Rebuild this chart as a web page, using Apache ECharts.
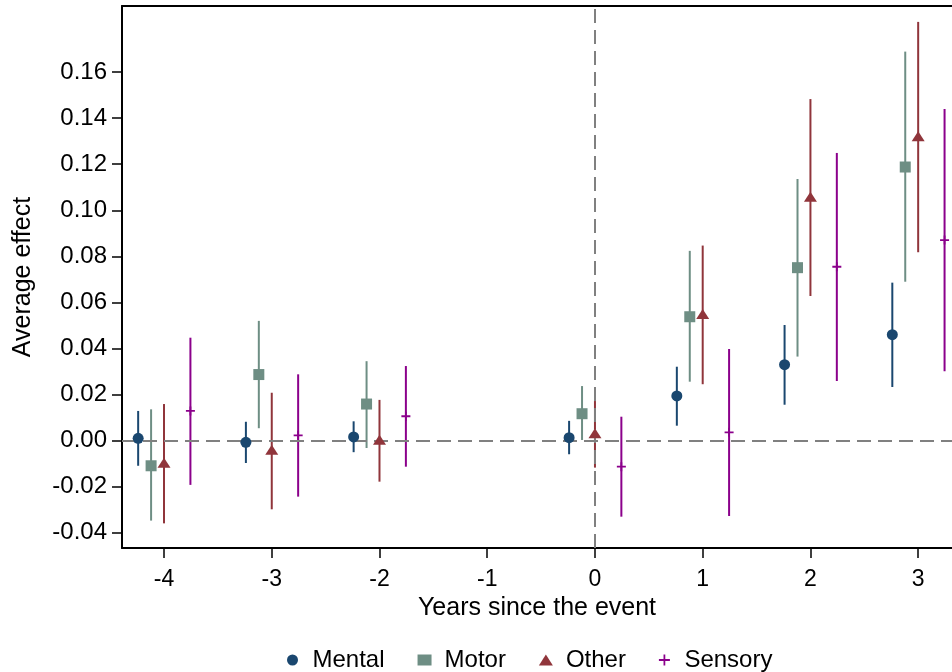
<!DOCTYPE html>
<html>
<head>
<meta charset="utf-8">
<script src="https://cdn.jsdelivr.net/npm/echarts@6/dist/echarts.min.js"></script>
<style>
  html, body { margin: 0; padding: 0; background: #fff; }
  #chart { width: 952px; height: 672px; }
</style>
</head>
<body>
<div id="chart"></div>
<script>
// years since the event (no estimate at -1, the reference year)
var years = [-4, -3, -2, 0, 1, 2, 3];
var xTicks = [-4, -3, -2, -1, 0, 1, 2, 3];
var yTicks = [-0.04, -0.02, 0, 0.02, 0.04, 0.06, 0.08, 0.10, 0.12, 0.14, 0.16];

var mentalEst = [0.0010, -0.0007, 0.0016, 0.0013, 0.0194, 0.0330, 0.0460];
var mentalLo  = [-0.0109, -0.0097, -0.0050, -0.0059, 0.0065, 0.0156, 0.0233];
var mentalHi  = [0.0129, 0.0082, 0.0084, 0.0086, 0.0321, 0.0502, 0.0686];

var motorEst = [-0.0109, 0.0287, 0.0159, 0.0117, 0.0538, 0.0751, 0.1188];
var motorLo  = [-0.0347, 0.0054, -0.0032, 0.0003, 0.0256, 0.0365, 0.0690];
var motorHi  = [0.0136, 0.0520, 0.0345, 0.0237, 0.0824, 0.1136, 0.1689];

var otherEst = [-0.0096, -0.0040, 0.0004, 0.0032, 0.0550, 0.1059, 0.1321];
var otherLo  = [-0.0359, -0.0298, -0.0178, -0.0117, 0.0245, 0.0628, 0.0818];
var otherHi  = [0.0159, 0.0208, 0.0177, 0.0172, 0.0847, 0.1483, 0.1818];

var sensoryEst = [0.0129, 0.0023, 0.0106, -0.0113, 0.0036, 0.0755, 0.0871];
var sensoryLo  = [-0.0192, -0.0243, -0.0113, -0.0330, -0.0327, 0.0259, 0.0301];
var sensoryHi  = [0.0447, 0.0288, 0.0324, 0.0104, 0.0398, 0.1249, 0.1440];

var font = 'Liberation Sans, Arial, sans-serif';
var plusPath = 'path://M0,4H10V6H0Z M4,0H6V10H4Z';

var groups = [
    { name: 'Mental',  color: '#1a476f', shift: -0.24,  est: mentalEst,  lo: mentalLo,  hi: mentalHi,  symbol: 'circle',   size: 11 },
    { name: 'Motor',   color: '#6e8e84', shift: -0.12,  est: motorEst,   lo: motorLo,   hi: motorHi,   symbol: 'rect',     size: 11 },
    { name: 'Other',   color: '#90353b', shift: 0,      est: otherEst,   lo: otherLo,   hi: otherHi,   symbol: 'triangle', size: [13, 10] },
    { name: 'Sensory', color: '#8b008b', shift: 0.245,  est: sensoryEst, lo: sensoryLo, hi: sensoryHi, symbol: plusPath,   size: 9 }
];

var series = [];
groups.forEach(function (g) {
    // confidence intervals as plain vertical lines
    series.push({
        name: g.name,
        type: 'custom',
        z: 2,
        itemStyle: { color: g.color },
        data: years.map(function (yr, i) { return [yr + g.shift, g.lo[i], g.hi[i]]; }),
        renderItem: function (params, api) {
            var p1 = api.coord([api.value(0), api.value(1)]);
            var p2 = api.coord([api.value(0), api.value(2)]);
            return {
                type: 'line',
                shape: { x1: p1[0], y1: p1[1], x2: p2[0], y2: p2[1] },
                style: { stroke: g.color, lineWidth: 2 }
            };
        }
    });
    series.push({
        name: g.name,
        type: 'scatter',
        z: 5,
        symbol: g.symbol,
        symbolSize: g.size,
        itemStyle: { color: g.color, opacity: 1 },
        data: years.map(function (yr, i) { return [yr + g.shift, g.est[i]]; })
    });
});

// reference lines at zero
series.push({
    type: 'line',
    data: [],
    z: 1,
    markLine: {
        silent: true,
        symbol: 'none',
        label: { show: false },
        lineStyle: { color: '#808080', type: [14, 7], width: 2 },
        data: [{ yAxis: 0 }, { xAxis: 0 }]
    }
});

var chart = echarts.init(document.getElementById('chart'), null, { renderer: 'canvas' });
chart.setOption({
    animation: false,
    backgroundColor: '#fff',
    textStyle: { fontFamily: font, color: '#000' },
    grid: { left: 122, right: 0, top: 6, bottom: 124 },
    legend: {
        left: 282,
        top: 643,
        itemWidth: 14,
        itemHeight: 11,
        itemGap: 33,
        textStyle: { fontFamily: font, fontSize: 24, color: '#000', padding: [0, 0, 0, 8] },
        data: [
            { name: 'Mental', icon: 'circle', itemStyle: { color: '#1a476f' } },
            { name: 'Motor', icon: 'rect', itemStyle: { color: '#6e8e84' } },
            { name: 'Other', icon: 'triangle', itemStyle: { color: '#90353b' } },
            { name: 'Sensory', icon: 'path://M2.5,4.6H7.5V5.4H2.5Z M4.6,2.5H5.4V7.5H4.6Z', itemStyle: { color: '#8b008b' } }
        ]
    },
    xAxis: [{
        type: 'value',
        min: -4.39,
        max: 3.314,
        name: 'Years since the event',
        nameLocation: 'middle',
        nameGap: 36,
        nameTextStyle: { fontFamily: font, fontSize: 25, color: '#000' },
        splitLine: { show: false },
        axisLine: { onZero: false, lineStyle: { color: '#000', width: 2 } },
        axisTick: { customValues: xTicks, length: 10, lineStyle: { color: '#000', width: 1.5 } },
        axisLabel: {
            customValues: xTicks,
            margin: 20,
            fontFamily: font,
            fontSize: 23,
            color: '#000',
            formatter: function (v) { return String(v); }
        }
    }, {
        type: 'value',
        position: 'top',
        min: -4.39,
        max: 3.314,
        splitLine: { show: false },
        axisLine: { onZero: false, lineStyle: { color: '#000', width: 2 } },
        axisTick: { show: false },
        axisLabel: { show: false }
    }],
    yAxis: {
        type: 'value',
        min: -0.0466,
        max: 0.1887,
        name: 'Average effect',
        nameLocation: 'middle',
        nameGap: 86,
        nameTextStyle: { fontFamily: font, fontSize: 25, color: '#000' },
        splitLine: { show: false },
        axisLine: { onZero: false, lineStyle: { color: '#000', width: 2 } },
        axisTick: { customValues: yTicks, length: 10, lineStyle: { color: '#000', width: 1.5 } },
        axisLabel: {
            customValues: yTicks,
            margin: 15,
            fontFamily: font,
            fontSize: 24,
            color: '#000',
            formatter: function (v) { return v.toFixed(2); }
        }
    },
    series: series
});
</script>
</body>
</html>
